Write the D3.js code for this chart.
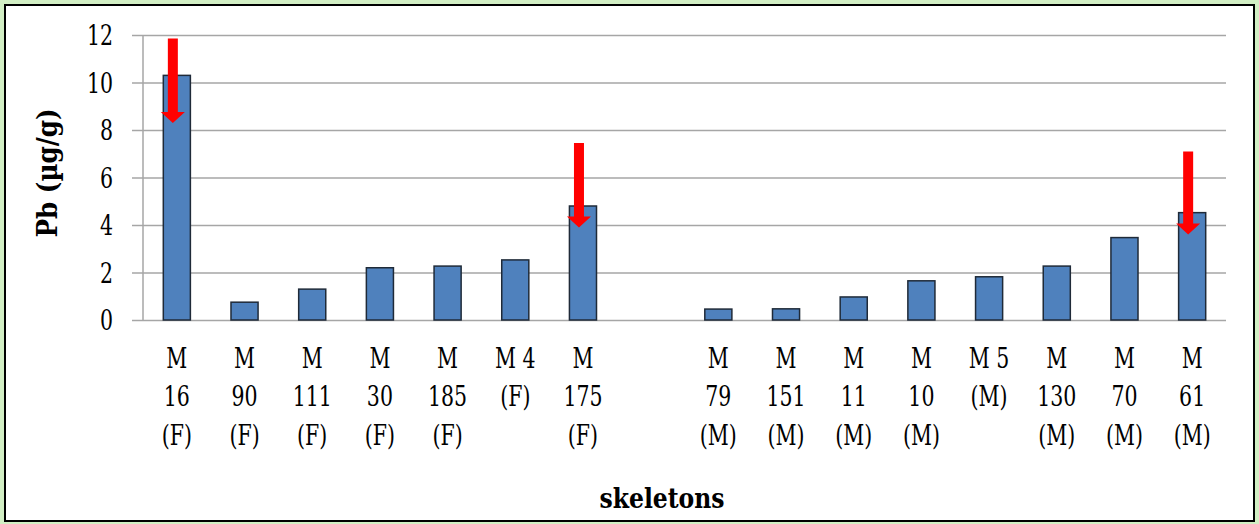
<!DOCTYPE html>
<html>
<head>
<meta charset="utf-8">
<script src="https://cdn.jsdelivr.net/npm/d3@7"></script>
<style>
  html, body { margin: 0; padding: 0; background: #d2efc4; }
  #vis { width: 1259px; height: 524px; }
  svg text { font-family: "DejaVu Serif", "Liberation Serif", serif; fill: #000; }
</style>
</head>
<body>
<div id="vis"></div>
<script>
// skeleton labels, line breaks as in the picture; '' is the empty gap slot
var categories = ['M\n16\n(F)', 'M\n90\n(F)', 'M\n111\n(F)', 'M\n30\n(F)', 'M\n185\n(F)', 'M 4\n(F)', 'M\n175\n(F)',
    '',
    'M\n79\n(M)', 'M\n151\n(M)', 'M\n11\n(M)', 'M\n10\n(M)', 'M 5\n(M)', 'M\n130\n(M)', 'M\n70\n(M)', 'M\n61\n(M)'];
var pb_values = [10.3, 0.75, 1.3, 2.2, 2.27, 2.53, 4.8,
    null,
    0.46, 0.47, 0.97, 1.65, 1.82, 2.27, 3.47, 4.52];
var y_ticks = [0, 2, 4, 6, 8, 10, 12];

// red arrows: slot index, start value, tip value
var arrow_slots = [0, 6, 15];
var arrow_from = [11.85, 7.45, 7.1];
var arrow_to = [8.3, 3.9, 3.6];

var width = 1259, height = 524;
var margin = { top: 35, bottom: 204, left: 143, right: 33 };
var squeeze = 0.76; // the serif we have is wider than the one in the picture
var serif = '"DejaVu Serif", "Liberation Serif", serif';

var svg = d3.select('#vis')
    .append('svg')
    .attr('width', width)
    .attr('height', height);

// outer frame
svg.append('rect')
    .attr('x', 5).attr('y', 5)
    .attr('width', width - 10).attr('height', height - 8)
    .attr('fill', '#fff')
    .attr('stroke', '#000')
    .attr('stroke-width', 2);

var w = width - margin.left - margin.right;
var h = height - margin.top - margin.bottom;

var g = svg.append('g')
    .attr('transform', 'translate(' + margin.left + ',' + margin.top + ')');

var x_scale = d3.scaleBand()
    .domain(d3.range(categories.length))
    .range([0, w])
    .paddingInner(0.6)
    .paddingOuter(0.3);

var y_scale = d3.scaleLinear()
    .domain([0, 12])
    .range([h, 0]);

// gridlines + y labels
var y_axis = d3.axisLeft(y_scale)
    .tickValues(y_ticks)
    .tickSize(-w)
    .tickPadding(0)
    .tickFormat(d3.format('d'));

var ya = g.append('g').call(y_axis);
ya.attr('font-family', null);
ya.select('.domain').remove();
ya.selectAll('.tick line')
    .attr('x1', -11)
    .attr('stroke', '#a6a6a6')
    .attr('stroke-width', 1.5);
ya.selectAll('.tick text')
    .attr('x', 0)
    .attr('dy', '0.36em')
    .attr('transform', 'translate(-30,0) scale(' + squeeze + ',1)')
    .style('font-size', '27px')
    .style('font-family', serif);

// vertical axis line
g.append('line')
    .attr('x1', 0).attr('x2', 0)
    .attr('y1', 0).attr('y2', h)
    .attr('stroke', '#a6a6a6')
    .attr('stroke-width', 1.5);

// bars
g.selectAll('.bar')
    .data(pb_values.map(function (v, i) { return { i: i, v: v }; }).filter(function (d) { return d.v !== null; }))
    .enter()
    .append('rect')
    .attr('class', 'bar')
    .attr('x', function (d) { return x_scale(d.i); })
    .attr('width', x_scale.bandwidth())
    .attr('y', function (d) { return y_scale(d.v); })
    .attr('height', function (d) { return h - y_scale(d.v); })
    .attr('fill', '#4f81bd')
    .attr('stroke', '#1f2a38')
    .attr('stroke-width', 1.5);

// category labels
categories.forEach(function (c, i) {
    if (!c) return;
    var cx = x_scale(i) + x_scale.bandwidth() / 2;
    var t = g.append('text')
        .attr('transform', 'translate(' + cx + ',' + (h + 48) + ') scale(' + squeeze + ',1)')
        .attr('text-anchor', 'middle')
        .style('font-family', serif)
        .style('font-size', '27px');
    c.split('\n').forEach(function (line, k) {
        t.append('tspan')
            .attr('x', 0)
            .attr('dy', k === 0 ? 0 : 38.5)
            .text(line);
    });
});

// arrows
arrow_slots.forEach(function (s, k) {
    var cx = x_scale(s) + x_scale.bandwidth() / 2 - 4;
    var y0 = y_scale(arrow_from[k]);
    var y1 = y_scale(arrow_to[k]);
    var head = 11;
    g.append('path')
        .attr('d', 'M' + (cx - 5) + ',' + y0 + 'L' + (cx + 5) + ',' + y0 +
            'L' + (cx + 5) + ',' + (y1 - head) + 'L' + (cx + 12) + ',' + (y1 - head) +
            'L' + cx + ',' + y1 + 'L' + (cx - 12) + ',' + (y1 - head) +
            'L' + (cx - 5) + ',' + (y1 - head) + 'Z')
        .attr('fill', '#ff0000');
});

// axis titles
svg.append('text')
    .attr('transform', 'translate(57,173) rotate(-90) scale(0.88,1)')
    .attr('text-anchor', 'middle')
    .style('font-family', serif)
    .style('font-size', '28px')
    .style('font-weight', 'bold')
    .text('Pb (µg/g)');

svg.append('text')
    .attr('transform', 'translate(662,508) scale(0.87,1)')
    .attr('text-anchor', 'middle')
    .style('font-family', serif)
    .style('font-size', '27px')
    .style('font-weight', 'bold')
    .text('skeletons');
</script>
</body>
</html>
